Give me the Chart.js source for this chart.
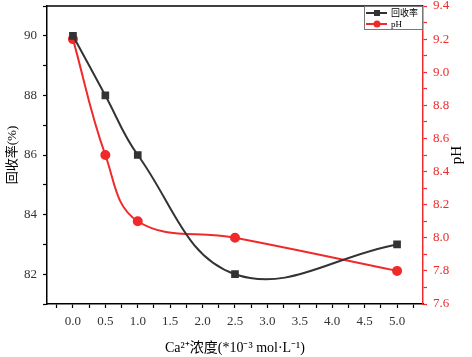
<!DOCTYPE html>
<html lang="zh">
<head>
<meta charset="UTF-8">
<title>回收率 pH</title>
<script src="https://cdn.jsdelivr.net/npm/chart.js"></script>
<style>
  html, body { margin: 0; padding: 0; background: #fff; }
  #wrap { width: 472px; height: 357px; }
</style>
</head>
<body>
<div id="wrap"><canvas id="c" width="472" height="357"></canvas></div>
<script>
// data
const conc = [0.0, 0.5, 1.0, 2.5, 5.0];
const recovery = [90, 88, 86, 82, 83];
const ph = [9.2, 8.5, 8.1, 8.0, 7.8];

const xTicks = [0.0, 0.5, 1.0, 1.5, 2.0, 2.5, 3.0, 3.5, 4.0, 4.5, 5.0];
const leftTicks = [82, 84, 86, 88, 90];
const rightTicks = [7.6, 7.8, 8.0, 8.2, 8.4, 8.6, 8.8, 9.0, 9.2, 9.4];

const BLACK = '#333333';
const RED = '#f02a2a';
const serif = '"Liberation Serif", "Times New Roman", "Noto Sans CJK SC", serif';

// major ticks plus one minor between each pair
function withMinor(major, half, lo, hi) {
  const out = [];
  for (let v = major[0] - half; v <= hi + 1e-9; v += half) {
    if (v >= lo - 1e-9) out.push(Math.round(v * 1000) / 1000);
  }
  return out;
}
const isMajor = (list, v) => list.some(m => Math.abs(m - v) < 1e-6);

const boxPlugin = {
  id: 'boxAndLegend',
  afterDraw(chart) {
    const ctx = chart.ctx;
    const a = chart.chartArea;
    ctx.save();
    // top frame line
    ctx.strokeStyle = '#000';
    ctx.lineWidth = 1.5;
    ctx.beginPath();
    ctx.moveTo(a.left, a.top);
    ctx.lineTo(a.right, a.top);
    ctx.stroke();

    // legend box
    const w = 59, h = 24;
    const lx = a.right - w, ly = a.top;
    ctx.fillStyle = '#fff';
    ctx.fillRect(lx, ly, w, h);
    ctx.strokeStyle = '#777';
    ctx.lineWidth = 1;
    ctx.strokeRect(lx + 0.5, ly + 0.5, w - 1, h - 1);
    chart.data.datasets.forEach((ds, i) => {
      const y = ly + 7 + i * 11;
      ctx.strokeStyle = ds.borderColor;
      ctx.lineWidth = 2;
      ctx.beginPath();
      ctx.moveTo(lx + 2, y);
      ctx.lineTo(lx + 23, y);
      ctx.stroke();
      ctx.fillStyle = ds.borderColor;
      if (ds.pointStyle === 'rect') {
        ctx.fillRect(lx + 10, y - 3, 6, 6);
      } else {
        ctx.beginPath();
        ctx.arc(lx + 13, y, 3.5, 0, Math.PI * 2);
        ctx.fill();
      }
      ctx.fillStyle = '#000';
      ctx.font = '9px ' + serif;
      ctx.textBaseline = 'middle';
      ctx.textAlign = 'left';
      ctx.fillText(ds.label, lx + 27, y + 0.5);
    });

    // right axis title, reading bottom to top
    ctx.fillStyle = '#000';
    ctx.font = '15px ' + serif;
    ctx.textAlign = 'center';
    ctx.textBaseline = 'middle';
    ctx.translate(457, (a.top + a.bottom) / 2);
    ctx.rotate(-Math.PI / 2);
    ctx.fillText('pH', 0, 0);
    ctx.restore();
  }
};

new Chart(document.getElementById('c'), {
  type: 'line',
  data: {
    datasets: [
      {
        label: '回收率',
        data: conc.map((x, i) => ({ x: x, y: recovery[i] })),
        borderColor: BLACK,
        backgroundColor: BLACK,
        borderWidth: 2,
        pointStyle: 'rect',
        pointRadius: 4,
        tension: 0.4,
        yAxisID: 'y'
      },
      {
        label: 'pH',
        data: conc.map((x, i) => ({ x: x, y: ph[i] })),
        borderColor: RED,
        backgroundColor: RED,
        borderWidth: 2,
        pointStyle: 'circle',
        pointRadius: 4,
        tension: 0.4,
        yAxisID: 'y1'
      }
    ]
  },
  options: {
    responsive: false,
    animation: false,
    layout: { padding: { top: 6, left: 0, right: 0, bottom: 0 } },
    plugins: { legend: { display: false }, tooltip: { enabled: false } },
    scales: {
      x: {
        type: 'linear',
        min: -0.4,
        max: 5.4,
        afterBuildTicks: s => { s.ticks = withMinor(xTicks, 0.25, -0.4, 5.4).map(v => ({ value: v })); },
        afterFit: s => { s.height = 53; s.paddingLeft = 0; s.paddingRight = 0; },
        ticks: {
          autoSkip: false,
          maxRotation: 0,
          color: BLACK,
          padding: 6,
          font: { family: serif, size: 13 },
          callback: v => isMajor(xTicks, v) ? v.toFixed(1) : ''
        },
        grid: { drawOnChartArea: false, tickLength: 4, tickColor: '#000', tickWidth: 1.2 },
        border: { color: '#000', width: 1.5 },
        title: {
          display: true,
          text: 'Ca²⁺浓度(*10⁻³ mol·L⁻¹)',
          color: '#000',
          font: { family: serif, size: 14 },
          padding: { top: 6, bottom: 0 }
        }
      },
      y: {
        position: 'left',
        min: 81,
        max: 91,
        afterBuildTicks: s => { s.ticks = withMinor(leftTicks, 1, 81, 91).map(v => ({ value: v })); },
        afterFit: s => { s.width = 47; s.paddingTop = 0; s.paddingBottom = 0; },
        ticks: {
          autoSkip: false,
          color: BLACK,
          padding: 6,
          font: { family: serif, size: 13 },
          callback: v => isMajor(leftTicks, v) ? String(v) : ''
        },
        grid: { drawOnChartArea: false, tickLength: 4, tickColor: '#000', tickWidth: 1.2 },
        border: { color: '#000', width: 1.5 },
        title: {
          display: true,
          text: '回收率(%)',
          color: '#000',
          font: { family: serif, size: 13 },
          padding: { top: 5, bottom: 0 }
        }
      },
      y1: {
        position: 'right',
        min: 7.6,
        max: 9.4,
        afterBuildTicks: s => { s.ticks = withMinor(rightTicks, 0.1, 7.6, 9.4).map(v => ({ value: v })); },
        afterFit: s => { s.width = 49; s.paddingTop = 0; s.paddingBottom = 0; },
        ticks: {
          autoSkip: false,
          color: RED,
          padding: 6,
          font: { family: serif, size: 13 },
          callback: v => isMajor(rightTicks, v) ? v.toFixed(1) : ''
        },
        grid: { drawOnChartArea: false, tickLength: 4, tickColor: RED, tickWidth: 1.2 },
        border: { color: RED, width: 1.5 }
      }
    }
  },
  plugins: [boxPlugin]
});
</script>
</body>
</html>
